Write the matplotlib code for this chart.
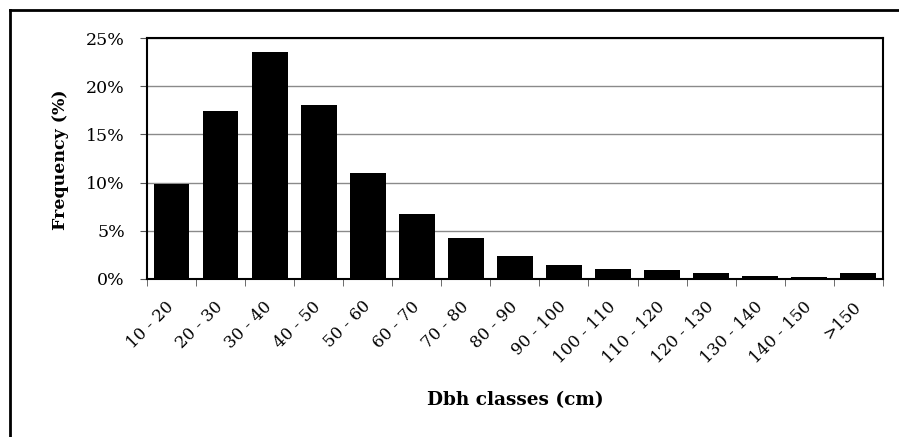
import matplotlib
matplotlib.use("Agg")
import matplotlib.pyplot as plt
from matplotlib.lines import Line2D
from matplotlib.ticker import FuncFormatter, FixedLocator
import numpy as np

# Dbh class frequencies (%)
classes = ["10 - 20", "20 - 30", "30 - 40", "40 - 50", "50 - 60", "60 - 70",
           "70 - 80", "80 - 90", "90 - 100", "100 - 110", "110 - 120",
           "120 - 130", "130 - 140", "140 - 150", ">150"]
freq = [9.9, 17.4, 23.5, 18.1, 11.0, 6.7, 4.3, 2.4, 1.5, 1.0, 0.9, 0.6, 0.3, 0.2, 0.6]
yticks = [0, 5, 10, 15, 20, 25]

plt.rcParams['font.family'] = ['DejaVu Serif']

fig = plt.figure(figsize=(8.99, 4.37), dpi=100)
ax = fig.add_axes([0.1635, 0.3616, 0.8185, 0.5514])

x = np.arange(len(classes))
ax.bar(x, freq, width=0.73, color='black', zorder=3)

ax.set_xlim(-0.5, len(classes) - 0.5)
ax.set_ylim(0, 25)
ax.set_yticks(yticks)
ax.yaxis.set_major_formatter(FuncFormatter(lambda v, p: f"{v:.0f}%"))
ax.grid(axis='y', color='#8a8a8a', linewidth=1, zorder=0)

# category labels at centers, tick marks on boundaries
ax.set_xticks(x)
ax.set_xticklabels(classes, rotation=45, ha='right', va='center',
                   rotation_mode='anchor', fontsize=12)
ax.tick_params(axis='x', which='major', length=0, pad=18)
ax.xaxis.set_minor_locator(FixedLocator(np.arange(-0.5, len(classes), 1.0)))
ax.tick_params(axis='x', which='minor', length=5, color='#555555', direction='out')
ax.tick_params(axis='y', length=5, color='#555555', labelsize=12.5, pad=11)

for s in ax.spines.values():
    s.set_color('black')
    s.set_linewidth(1.5)

ax.set_ylabel("Frequency (%)", fontsize=12.5, fontweight='bold', va='center')
ax.yaxis.set_label_coords(-0.118, 0.496)
ax.set_xlabel("Dbh classes (cm)", fontsize=13.3, fontweight='bold', va='top')
ax.xaxis.set_label_coords(0.5, -0.465)

# outer frame (left and top edges visible)
fig.add_artist(Line2D([10 / 899, 10 / 899], [0, 1 - 10 / 437], color='black', linewidth=2,
                      transform=fig.transFigure))
fig.add_artist(Line2D([10 / 899, 1], [1 - 10 / 437, 1 - 10 / 437], color='black', linewidth=2,
                      transform=fig.transFigure))

fig.savefig("out.png", dpi=100)
